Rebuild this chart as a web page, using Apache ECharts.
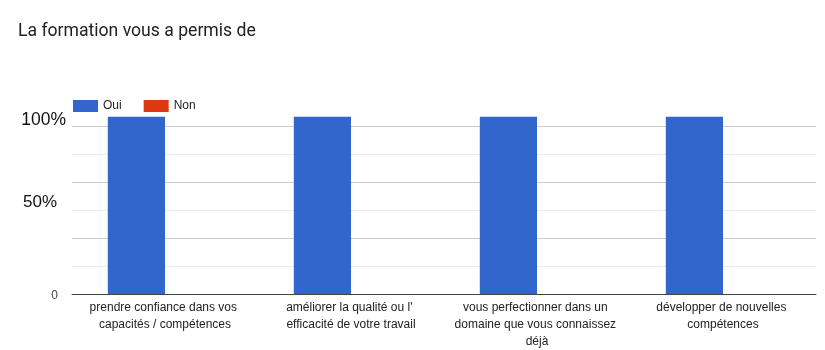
<!DOCTYPE html>
<html>
<head>
<meta charset="utf-8">
<script src="https://cdn.jsdelivr.net/npm/echarts@6/dist/echarts.min.js"></script>
<style>
  html, body { margin: 0; padding: 0; background: #fff; }
  #chart { width: 825px; height: 350px; }
</style>
</head>
<body>
<div id="chart"></div>
<script>
// Survey question and answer categories
const titleText = 'La formation vous a permis de';
const categories = [
  'prendre confiance dans vos capacités / compétences',
  "améliorer la qualité ou l' efficacité de votre travail",
  'vous perfectionner dans un domaine que vous connaissez déjà',
  'développer de nouvelles compétences'
];
const seriesNames = ['Oui', 'Non'];
// Response counts per statement
const ouiValues = [19, 19, 19, 19];
const nonValues = [0, 0, 0, 0];
// Axis scale (count units) and the tick labels shown on it
const axisMax = 18;
const axisStep = 3;
const tickLabels = { 0: '0', 9: '50%', 18: '100%' };

const chart = echarts.init(document.getElementById('chart'), null, { renderer: 'canvas' });

chart.setOption({
  animation: false,
  backgroundColor: '#ffffff',
  color: ['#3366cc', '#dc3912'],
  title: {
    text: titleText,
    left: 18,
    top: 23,
    padding: 0,
    textStyle: { fontFamily: 'Roboto', fontSize: 17.6, fontWeight: 'normal', color: '#212121' }
  },
  legend: {
    data: seriesNames,
    left: 68,
    top: 95,
    icon: 'rect',
    itemWidth: 25,
    itemHeight: 12,
    itemGap: 22,
    textStyle: { fontFamily: 'Liberation Sans', fontSize: 12, color: '#222' }
  },
  grid: { left: 72, right: 9, top: 126, bottom: 53, containLabel: false },
  xAxis: {
    type: 'category',
    data: categories,
    axisLine: { lineStyle: { color: '#444', width: 1 } },
    axisTick: { show: false },
    axisLabel: {
      interval: 0,
      margin: 5,
      width: 172,
      overflow: 'break',
      lineHeight: 17,
      fontFamily: 'Liberation Sans',
      fontSize: 12,
      color: '#222'
    }
  },
  yAxis: {
    type: 'value',
    min: 0,
    max: axisMax,
    interval: axisStep,
    axisLine: { show: false },
    axisTick: { show: false },
    splitLine: { lineStyle: { color: ['#cccccc', '#ebebeb'], width: 1 } },
    axisLabel: {
      margin: 6,
      formatter: function (v) {
        const t = tickLabels[v];
        if (t === undefined) return '';
        if (v === 0) return '{zero|' + t + '}';
        if (v === 9) return '{mid|' + t + '}';
        return '{top|' + t + '}';
      },
      rich: {
        zero: { fontFamily: 'Liberation Sans', fontSize: 12, color: '#444', padding: [4, 8, 0, 0] },
        mid: { fontFamily: 'Liberation Sans', fontSize: 17, color: '#111', padding: [0, 9, 15, 0] },
        top: { fontFamily: 'Liberation Sans', fontSize: 17.5, color: '#111', padding: [0, 0, 12, 0] }
      }
    }
  },
  series: [
    {
      name: seriesNames[0],
      type: 'bar',
      data: ouiValues,
      clip: false,
      barGap: '0%',
      barCategoryGap: '38.5%'
    },
    {
      name: seriesNames[1],
      type: 'bar',
      data: nonValues,
      clip: false
    }
  ]
});
</script>
</body>
</html>
